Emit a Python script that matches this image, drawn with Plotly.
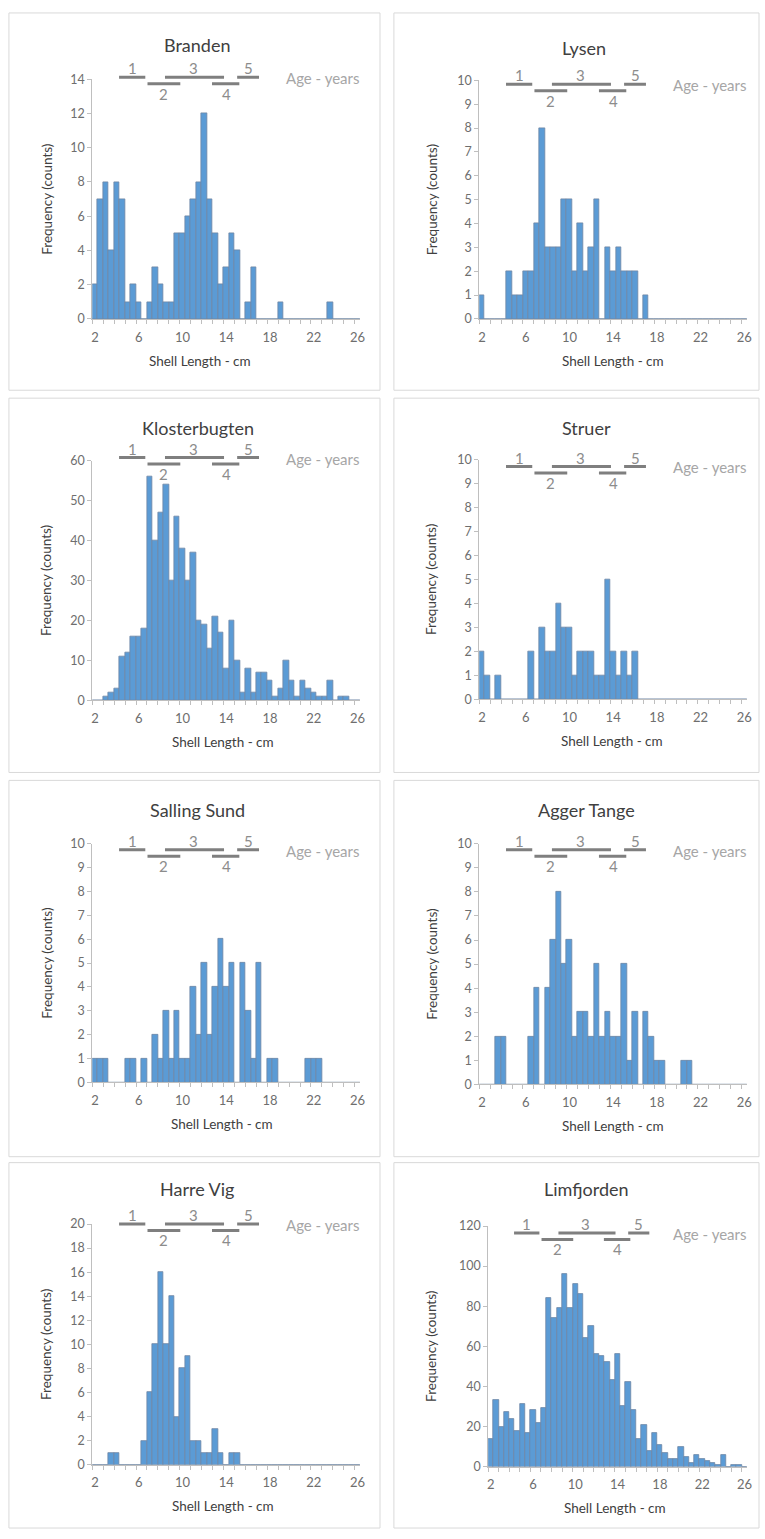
import plotly.graph_objects as go

# ---------------- data ----------------
BIN_CENTERS = [2.0, 2.5, 3.0, 3.5, 4.0, 4.5, 5.0, 5.5, 6.0, 6.5,
               7.0, 7.5, 8.0, 8.5, 9.0, 9.5, 10.0, 10.5, 11.0, 11.5,
               12.0, 12.5, 13.0, 13.5, 14.0, 14.5, 15.0, 15.5, 16.0, 16.5,
               17.0, 17.5, 18.0, 18.5, 19.0, 19.5, 20.0, 20.5, 21.0, 21.5,
               22.0, 22.5, 23.0, 23.5, 24.0, 24.5, 25.0, 25.5, 26.0]

SITES = ["Branden", "Lysen", "Klosterbugten", "Struer",
         "Salling Sund", "Agger Tange", "Harre Vig", "Limfjorden"]

BRANDEN = [2, 7, 8, 4, 8, 7, 1, 2, 1, 0,
           1, 3, 2, 1, 1, 5, 5, 6, 7, 8,
           12, 7, 5, 2, 3, 5, 4, 0, 1, 3,
           0, 0, 0, 0, 1, 0, 0, 0, 0, 0,
           0, 0, 0, 1, 0, 0, 0, 0, 0]
LYSEN = [1, 0, 0, 0, 0, 2, 1, 1, 2, 2,
         4, 8, 3, 3, 3, 5, 5, 2, 4, 2,
         3, 5, 0, 3, 2, 3, 2, 2, 2, 0,
         1, 0, 0, 0, 0, 0, 0, 0, 0, 0,
         0, 0, 0, 0, 0, 0, 0, 0, 0]
KLOSTERBUGTEN = [0, 0, 1, 2, 3, 11, 12, 16, 16, 18,
                 56, 40, 47, 54, 30, 46, 38, 30, 37, 20,
                 19, 13, 21, 17, 8, 20, 10, 2, 8, 2,
                 7, 7, 5, 1, 3, 10, 5, 1, 5, 3,
                 2, 1, 1, 5, 0, 1, 1, 0, 0]
STRUER = [2, 1, 0, 1, 0, 0, 0, 0, 0, 2,
          0, 3, 2, 2, 4, 3, 3, 1, 2, 2,
          2, 1, 1, 5, 2, 1, 2, 1, 2, 0,
          0, 0, 0, 0, 0, 0, 0, 0, 0, 0,
          0, 0, 0, 0, 0, 0, 0, 0, 0]
SALLING_SUND = [1, 1, 1, 0, 0, 0, 1, 1, 0, 1,
                0, 2, 1, 3, 1, 3, 1, 1, 4, 2,
                5, 2, 4, 6, 4, 5, 0, 5, 3, 1,
                5, 0, 1, 1, 0, 0, 0, 0, 0, 1,
                1, 1, 0, 0, 0, 0, 0, 0, 0]
AGGER_TANGE = [0, 0, 0, 2, 2, 0, 0, 0, 0, 2,
               4, 0, 4, 6, 8, 5, 6, 2, 3, 3,
               2, 5, 2, 3, 2, 2, 5, 1, 3, 0,
               3, 2, 1, 1, 0, 0, 0, 1, 1, 0,
               0, 0, 0, 0, 0, 0, 0, 0, 0]
HARRE_VIG = [0, 0, 0, 1, 1, 0, 0, 0, 0, 2,
             6, 10, 16, 10, 14, 4, 8, 9, 2, 2,
             1, 1, 3, 1, 0, 1, 1, 0, 0, 0,
             0, 0, 0, 0, 0, 0, 0, 0, 0, 0,
             0, 0, 0, 0, 0, 0, 0, 0, 0]
LIMFJORDEN = [14, 33, 20, 27, 24, 18, 31, 17, 28, 22,
              29, 84, 74, 79, 96, 79, 91, 86, 64, 70,
              56, 55, 52, 43, 56, 30, 42, 28, 14, 21,
              8, 17, 11, 7, 4, 4, 10, 5, 2, 6,
              4, 3, 2, 1, 6, 0, 1, 1, 0]
SERIES = [BRANDEN, LYSEN, KLOSTERBUGTEN, STRUER,
          SALLING_SUND, AGGER_TANGE, HARRE_VIG, LIMFJORDEN]

Y_MAX = [14, 10, 60, 10, 10, 10, 20, 120]
Y_STEP = [2, 1, 10, 1, 1, 1, 2, 20]
X_TICKS = [2, 6, 10, 14, 18, 22, 26]

AGE_LABELS = ["1", "2", "3", "4", "5"]
AGE_START = [4.2, 6.8, 8.4, 12.7, 15.0]
AGE_END = [6.6, 9.8, 13.8, 15.2, 17.0]
AGE_LABEL_X = [5.4, 8.3, 11.0, 14.0, 16.0]
AGE_UPPER = [True, False, True, False, True]

# ---------------- layout (pixels) ----------------
W, H = 765, 1539
PLOT_X = [(92, 362), (482, 752), (92, 362), (482, 752),
          (92, 362), (482, 752), (92, 362), (491, 752)]
PLOT_Y = [(72, 314), (73, 314), (457, 699), (456, 698),
          (844, 1085), (844, 1087), (1228, 1471), (1230, 1473)]
AGE_LINE_Y = [70, 77, 454, 463, 850, 850, 1228, 1237]
TITLE_POS = [(198, 37), (588, 40), (199, 424), (590, 424),
             (198, 810), (590, 810), (198, 1193), (590, 1193)]
XTITLE_X = [201, 617, 224, 616, 223, 617, 224, 619]
YTITLE_X = [46, 434, 46, 434, 46, 434, 46, 434]
COL_X = [(8, 382), (396, 764)]
ROW_Y = [(5, 386), (394, 772), (780, 1160), (1166, 1535)]

FONT = "Lato, 'Open Sans', sans-serif"
BAR_FILL = "#5b9bd5"
BAR_EDGE = "#6f87a4"
AXIS_C = "#bfbfbf"
TICK_C = "#6e6e6e"
TITLE_C = "#404040"
AGE_LINE_C = "#7f7f7f"
AGE_TXT_C = "#8c8c8c"
AGE_YEARS_C = "#a6a6a6"


def xp(px):
    return px / W


def yp(py):
    return 1 - py / H


fig = go.Figure()
layout = dict(width=W, height=H, margin=dict(l=0, r=0, t=0, b=0),
              paper_bgcolor="white", plot_bgcolor="white",
              showlegend=False, bargap=0, font=dict(family=FONT))
shapes = []
annotations = []

for i, (name, vals) in enumerate(zip(SITES, SERIES)):
    n = i + 1
    sfx = "" if n == 1 else str(n)
    xa, ya = "x" + sfx, "y" + sfx
    fig.add_trace(go.Bar(x=BIN_CENTERS, y=vals, xaxis=xa, yaxis=ya,
                         width=0.5,
                         marker=dict(color=BAR_FILL,
                                     line=dict(color=BAR_EDGE, width=0.8)),
                         hoverinfo="x+y"))
    x0, x1 = PLOT_X[i]
    y0, y1 = PLOT_Y[i]
    layout["xaxis" + sfx] = dict(
        domain=[xp(x0), xp(x1)], anchor=ya, range=[1.75, 26.25],
        tickmode="array", tickvals=X_TICKS, ticks="",
        ticklabelstandoff=6,
        tickfont=dict(size=13, color=TICK_C, family=FONT),
        showline=True, linecolor=AXIS_C, linewidth=1,
        showgrid=False, zeroline=False, fixedrange=True,
        minor=dict(ticks="outside", tickmode="linear", tick0=1.75, dtick=1,
                   ticklen=4, tickcolor=AXIS_C, tickwidth=1, showgrid=False))
    layout["yaxis" + sfx] = dict(
        domain=[yp(y1), yp(y0)], anchor=xa, range=[0, Y_MAX[i]],
        tickmode="linear", tick0=0, dtick=Y_STEP[i],
        ticks="outside", ticklen=4, tickcolor=AXIS_C,
        tickfont=dict(size=12.5, color=TICK_C, family=FONT),
        showline=True, linecolor=AXIS_C, linewidth=1,
        showgrid=False, zeroline=False, fixedrange=True)

    # panel title
    tx, ty = TITLE_POS[i]
    annotations.append(dict(text=name, x=xp(tx), y=yp(ty), xref="paper", yref="paper",
                            showarrow=False, xanchor="center", yanchor="middle",
                            font=dict(size=18, color=TITLE_C, family=FONT)))
    # axis titles
    annotations.append(dict(text="Shell Length - cm", x=xp(XTITLE_X[i]), y=yp(y1 + 42),
                            xref="paper", yref="paper", showarrow=False,
                            xanchor="center", yanchor="middle",
                            font=dict(size=13.5, color=TITLE_C, family=FONT)))
    annotations.append(dict(text="Frequency (counts)", x=xp(YTITLE_X[i]),
                            y=yp((y0 + y1) / 2), xref="paper", yref="paper",
                            showarrow=False, textangle=-90,
                            xanchor="center", yanchor="middle",
                            font=dict(size=13.5, color=TITLE_C, family=FONT)))
    # age classes
    up = AGE_LINE_Y[i]
    low = up + 6.5
    for lab, a0, a1, lx, is_up in zip(AGE_LABELS, AGE_START, AGE_END, AGE_LABEL_X, AGE_UPPER):
        ly = up if is_up else low
        shapes.append(dict(type="line", xref=xa, yref="paper", x0=a0, x1=a1,
                           y0=yp(ly), y1=yp(ly),
                           line=dict(color=AGE_LINE_C, width=3)))
        ty_lab = ly - 9 if is_up else ly + 10
        annotations.append(dict(text=lab, x=lx, y=yp(ty_lab), xref=xa, yref="paper",
                                showarrow=False, xanchor="center", yanchor="middle",
                                font=dict(size=15, color=AGE_TXT_C, family=FONT)))
    annotations.append(dict(text="Age - years", x=xp(x1 + 1), y=yp(up + 1),
                            xref="paper", yref="paper", showarrow=False,
                            xanchor="right", yanchor="middle",
                            font=dict(size=15, color=AGE_YEARS_C, family=FONT)))

# panel borders
for (r0, r1) in ROW_Y:
    for (c0, c1) in COL_X:
        shapes.append(dict(type="rect", xref="paper", yref="paper",
                           x0=xp(c0), x1=xp(c1), y0=yp(r1), y1=yp(r0),
                           line=dict(color="#d9d9d9", width=1), layer="below"))

layout["shapes"] = shapes
layout["annotations"] = annotations
fig.update_layout(**layout)
fig.write_html("out.html")
